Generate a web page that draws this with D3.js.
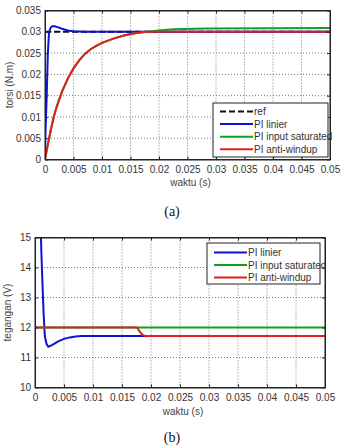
<!DOCTYPE html>
<html>
<head>
<meta charset="utf-8">
<script src="https://cdn.jsdelivr.net/npm/d3@7"></script>
<style>
  body { margin: 0; background: #fff; }
  svg text { font-family: "Liberation Sans", Arial, sans-serif; }
  .grid line { stroke: #555; stroke-dasharray: 1,2; stroke-width: 0.8; }
  .cap { font-family: "Liberation Serif", "Times New Roman", serif !important; }
</style>
</head>
<body>
<svg id="fig" width="341" height="446"></svg>
<script>
// ---- data ----
let xTicks = [0,0.005,0.01,0.015,0.02,0.025,0.03,0.035,0.04,0.045,0.05];
let torqueTicks = [0,0.005,0.01,0.015,0.02,0.025,0.03,0.035];
let voltTicks = [10,11,12,13,14,15];

// (a) torque, [t, value]
let torqueRef = [[0,0.03],[0.05,0.03]];
let torqueLinier = [[0,0],[0.0001,0.007],[0.0003,0.015],[0.0005,0.025],[0.0007,0.0298],
  [0.001,0.0310],[0.0013,0.0313],[0.0017,0.0313],[0.0022,0.0311],[0.003,0.0307],
  [0.004,0.0303],[0.005,0.0301],[0.007,0.0300],[0.05,0.0300]];
let torqueSat = [[0,0],[0.0005,0.0035],[0.001,0.0068],[0.0015,0.0098],[0.002,0.0122],
  [0.003,0.0160],[0.004,0.0190],[0.005,0.0214],[0.006,0.0233],[0.007,0.0248],
  [0.008,0.0259],[0.009,0.0267],[0.010,0.0274],[0.012,0.0284],[0.014,0.0292],
  [0.016,0.0297],[0.018,0.0300],[0.020,0.0303],[0.0225,0.0306],[0.028,0.0308],[0.05,0.0309]];
let torqueAW = [[0,0],[0.0005,0.0035],[0.001,0.0068],[0.0015,0.0098],[0.002,0.0122],
  [0.003,0.0160],[0.004,0.0190],[0.005,0.0214],[0.006,0.0233],[0.007,0.0248],
  [0.008,0.0259],[0.009,0.0267],[0.010,0.0274],[0.012,0.0284],[0.014,0.0292],
  [0.016,0.0297],[0.018,0.0300],[0.05,0.0300]];

// (b) voltage, [t, value]
let voltLinier = [[0.0009,16.5],[0.001,15.2],[0.0011,14.5],[0.0013,13.4],[0.0015,12.4],
  [0.0017,11.7],[0.002,11.45],[0.0023,11.36],[0.003,11.42],[0.004,11.54],[0.005,11.62],
  [0.006,11.67],[0.007,11.70],[0.008,11.72],[0.05,11.72]];
let voltSat = [[0,12],[0.05,12]];
let voltAW = [[0,12],[0.0176,12],[0.018,11.88],[0.0185,11.76],[0.019,11.71],[0.0195,11.72],[0.05,11.72]];

let blue = '#1010d0', green = '#10a020', red = '#e02020';

let svg = d3.select('#fig');

function panel(cfg){
  let g = svg.append('g');
  let x = d3.scaleLinear().domain([0,0.05]).range([cfg.left, cfg.right]);
  let y = d3.scaleLinear().domain(cfg.yDomain).range([cfg.bottom, cfg.top]);
  let fmt = d => String(+d.toFixed(3));

  // grid
  let grid = g.append('g').attr('class','grid');
  grid.selectAll('.gx').data(xTicks.slice(1,-1)).enter().append('line')
    .attr('x1', d => x(d)).attr('x2', d => x(d))
    .attr('y1', cfg.top).attr('y2', cfg.bottom);
  grid.selectAll('.gy').data(cfg.yTicks.slice(1,-1)).enter().append('line')
    .attr('y1', d => y(d)).attr('y2', d => y(d))
    .attr('x1', cfg.left).attr('x2', cfg.right);

  // curves
  let clipId = 'clip' + cfg.id;
  svg.append('clipPath').attr('id', clipId).append('rect')
    .attr('x', cfg.left).attr('y', cfg.top)
    .attr('width', cfg.right - cfg.left).attr('height', cfg.bottom - cfg.top);
  let line = d3.line().x(d => x(d[0])).y(d => y(d[1]));
  let curves = g.append('g').attr('clip-path', `url(#${clipId})`);
  cfg.series.forEach(s => {
    curves.append('path').datum(s.data)
      .attr('d', line).attr('fill','none')
      .attr('stroke', s.color).attr('stroke-width', 2)
      .attr('stroke-dasharray', s.dash || null);
  });

  // axes (matlab style, ticks inside, box)
  let axB = g.append('g').attr('transform', `translate(0,${cfg.bottom})`)
    .call(d3.axisBottom(x).tickValues(xTicks).tickFormat(fmt).tickSizeInner(-3).tickSizeOuter(0).tickPadding(6));
  let axT = g.append('g').attr('transform', `translate(0,${cfg.top})`)
    .call(d3.axisTop(x).tickValues(xTicks).tickFormat('').tickSizeInner(-3).tickSizeOuter(0));
  let axL = g.append('g').attr('transform', `translate(${cfg.left},0)`)
    .call(d3.axisLeft(y).tickValues(cfg.yTicks).tickFormat(cfg.yFmt || fmt).tickSizeInner(-3).tickSizeOuter(0).tickPadding(4));
  let axR = g.append('g').attr('transform', `translate(${cfg.right},0)`)
    .call(d3.axisRight(y).tickValues(cfg.yTicks).tickFormat('').tickSizeInner(-3).tickSizeOuter(0));
  [axB, axT, axL, axR].forEach(a => {
    a.selectAll('path').attr('stroke','#222');
    a.selectAll('line').attr('stroke','#222');
    a.selectAll('text').attr('fill','#333').style('font-size','10px');
  });
  g.append('rect').attr('x', cfg.left).attr('y', cfg.top)
    .attr('width', cfg.right - cfg.left).attr('height', cfg.bottom - cfg.top)
    .attr('fill','none').attr('stroke','#222').attr('stroke-width',1);

  // labels
  g.append('text').attr('x', (cfg.left + cfg.right) / 2 + 3).attr('y', cfg.xLabelY)
    .attr('text-anchor','middle').attr('fill','#444').style('font-size','10px').text('waktu (s)');
  g.append('text').attr('transform', `translate(${cfg.yLabelX},${(cfg.top + cfg.bottom) / 2}) rotate(-90)`)
    .attr('text-anchor','middle').attr('fill','#444').style('font-size','10px').text(cfg.yLabel);

  // legend
  let L = cfg.legend;
  let lg = g.append('g');
  lg.append('rect').attr('x', L.x).attr('y', L.y).attr('width', L.w).attr('height', L.h)
    .attr('fill','#fff').attr('stroke','#222').attr('stroke-width',1);
  L.items.forEach((s, i) => {
    let yy = L.y + L.first + i * L.step;
    lg.append('line').attr('x1', L.x + 7).attr('x2', L.x + 40).attr('y1', yy).attr('y2', yy)
      .attr('stroke', s.color).attr('stroke-width', 2).attr('stroke-dasharray', s.dash || null);
    lg.append('text').attr('x', L.x + 41).attr('y', yy + 3.5)
      .attr('fill','#333').style('font-size','10px').text(s.name);
  });

  // caption
  svg.append('text').attr('class','cap').attr('x', 172).attr('y', cfg.capY)
    .attr('text-anchor','middle').attr('fill','#111').style('font-size','14px').text(cfg.caption);
}

let sRefA = {name:'ref', data: torqueRef, color:'#111', dash:'6,3'};
let sLinA = {name:'PI linier', data: torqueLinier, color: blue};
let sSatA = {name:'PI input saturated', data: torqueSat, color: green};
let sAwA = {name:'PI anti-windup', data: torqueAW, color: red};

panel({
  id:'a', left:45, right:330, top:10.5, bottom:159.5,
  yDomain:[0,0.035], yTicks: torqueTicks,
  series:[sRefA, sLinA, sSatA, sAwA],
  xLabelY:186, yLabelX:13, yLabel:'torsi (N.m)',
  legend:{x:213, y:103, w:115, h:54, first:8.5, step:12.6, items:[sRefA, sLinA, sSatA, sAwA]},
  caption:'(a)', capY:216
});

let sLinB = {name:'PI linier', data: voltLinier, color: blue};
let sSatB = {name:'PI input saturated', data: voltSat, color: green};
let sAwB = {name:'PI anti-windup', data: voltAW, color: red};

panel({
  id:'b', left:35, right:325, top:237.5, bottom:387.5,
  yDomain:[10,15], yTicks: voltTicks, yFmt: d => d,
  series:[sLinB, sSatB, sAwB],
  xLabelY:415, yLabelX:11, yLabel:'tegangan (V)',
  legend:{x:207, y:243, w:113, h:41, first:9.5, step:12.5, items:[sLinB, sSatB, sAwB]},
  caption:'(b)', capY:442
});
</script>
</body>
</html>
